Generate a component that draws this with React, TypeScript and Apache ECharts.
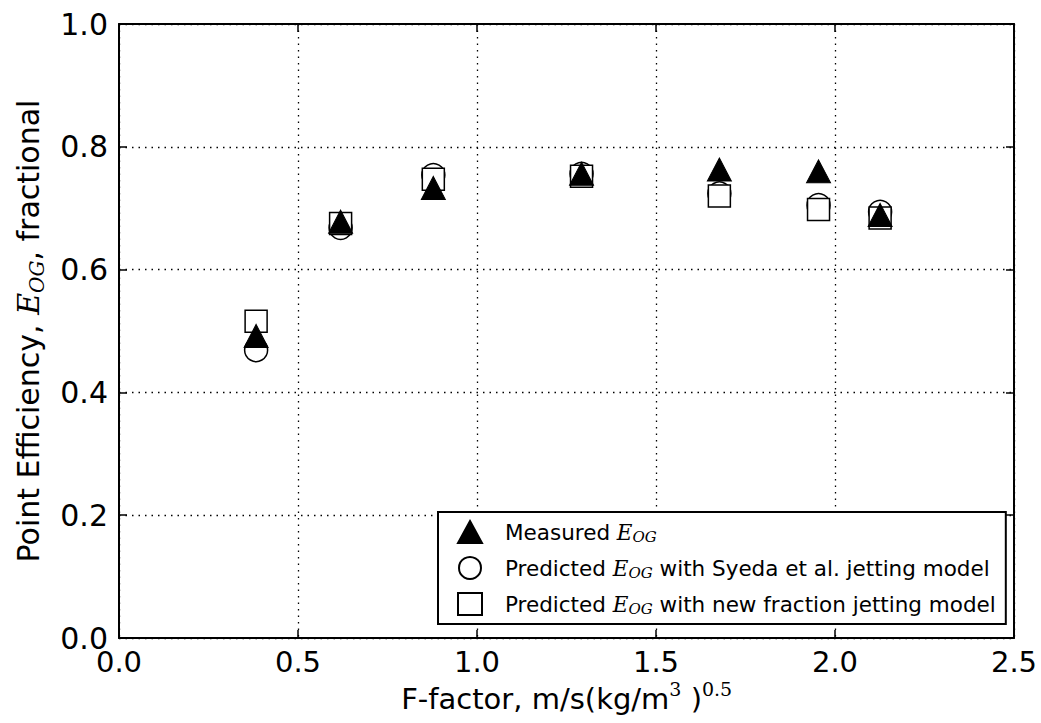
import React, { useEffect, useRef } from "react";
import * as echarts from "echarts";

const fFactor = [0.383, 0.619, 0.878, 1.292, 1.677, 1.954, 2.126];
const measured = [0.492, 0.678, 0.733, 0.756, 0.763, 0.76, 0.689];
const syeda = [0.469, 0.668, 0.754, 0.756, 0.724, 0.705, 0.694];
const newFraction = [0.516, 0.675, 0.747, 0.752, 0.72, 0.698, 0.684];
const seriesNames = [
  "Measured E_OG",
  "Predicted E_OG with Syeda et al. jetting model",
  "Predicted E_OG with new fraction jetting model",
];

const SANS = "DejaVu Sans";
const SERIF = "DejaVu Serif";

function pairs(ys: number[]) {
  return fFactor.map((x, i) => [x, ys[i]]);
}

export default function App() {
  const ref = useRef<HTMLDivElement>(null);
  useEffect(() => {
    if (!ref.current) return;
    const chart = echarts.init(ref.current, undefined, { renderer: "svg" });
    const axisCommon = {
      axisLine: { show: true, onZero: false, lineStyle: { color: "#000", width: 2 } },
      axisTick: { show: true, inside: true, length: 8, lineStyle: { color: "#000", width: 1.5 } },
    };
    const gridLine = { show: true, lineStyle: { color: "#000", width: 1.3, type: [1.5, 5] as any } };
    chart.setOption({
      animation: false,
      backgroundColor: "#fff",
      grid: {
        left: 119,
        right: 27,
        top: 24,
        bottom: 85,
        containLabel: false,
        outerBoundsMode: "none",
      },
      xAxis: [
        {
          type: "value",
          min: 0,
          max: 2.5,
          interval: 0.5,
          position: "bottom",
          ...axisCommon,
          splitLine: gridLine,
          axisLabel: {
            color: "#000",
            fontFamily: SANS,
            fontSize: 29,
            margin: 12,
            lineHeight: 24,
            formatter: (v: number) => v.toFixed(1),
          },
          name: "{st| }{m|F-factor, m/s(kg/m}{s3|3}{m| )}{sup|0.5}",
          nameLocation: "middle",
          nameGap: 41,
          nameMoveOverlap: false,
          nameTextStyle: {
            color: "#000",
            fontFamily: SANS,
            fontSize: 29,
            lineHeight: 30,
            rich: {
              st: {
                fontSize: 1,
                lineHeight: 34,
                verticalAlign: "top",
                color: "#fff",
              },
              m: {
                fontFamily: SANS,
                fontSize: 29,
                lineHeight: 30,
                verticalAlign: "bottom",
                color: "#000",
              },
              s3: {
                fontFamily: SERIF,
                fontSize: 19,
                lineHeight: 30,
                verticalAlign: "top",
                color: "#000",
              },
              sup: {
                fontFamily: SERIF,
                fontSize: 19,
                lineHeight: 19,
                verticalAlign: "top",
                color: "#000",
              },
            },
          },
        },
        {
          type: "value",
          min: 0,
          max: 2.5,
          interval: 0.5,
          position: "top",
          ...axisCommon,
          splitLine: { show: false },
          axisLabel: { show: false },
        },
      ],
      yAxis: [
        {
          type: "value",
          min: 0,
          max: 1,
          interval: 0.2,
          position: "left",
          ...axisCommon,
          splitLine: gridLine,
          axisLabel: {
            color: "#000",
            fontFamily: SANS,
            fontSize: 30,
            margin: 11,
            formatter: (v: number) => v.toFixed(1),
          },
          name: "Point Efficiency, {i|E}{s|OG}, fractional",
          nameLocation: "middle",
          nameRotate: 90,
          nameGap: 72,
          nameMoveOverlap: false,
          nameTextStyle: {
            color: "#000",
            fontFamily: SANS,
            fontSize: 30,
            lineHeight: 38,
            rich: {
              i: {
                fontFamily: SERIF,
                fontStyle: "italic",
                fontSize: 30,
                lineHeight: 38,
                color: "#000",
              },
              s: {
                fontFamily: SERIF,
                fontStyle: "italic",
                fontSize: 20,
                lineHeight: 20,
                verticalAlign: "bottom",
                color: "#000",
              },
            },
          },
        },
        {
          type: "value",
          min: 0,
          max: 1,
          interval: 0.2,
          position: "right",
          ...axisCommon,
          splitLine: { show: false },
          axisLabel: { show: false },
        },
      ],
      legend: {
        data: seriesNames,
        orient: "vertical",
        left: 438,
        top: 512,
        padding: [8, 10, 8, 19],
        itemGap: 12,
        itemWidth: 24,
        itemHeight: 22,
        backgroundColor: "#fff",
        borderColor: "#000",
        borderWidth: 2,
        borderRadius: 0,
        selectedMode: false,
        formatter: (name: string) => name.replace("E_OG", "{i|E}{s|OG}"),
        textStyle: {
          color: "#000",
          fontFamily: SANS,
          fontSize: 21.5,
          lineHeight: 24,
          padding: [0, 0, 0, 18],
          rich: {
            i: {
              fontFamily: SERIF,
              fontStyle: "italic",
              fontSize: 21.5,
              lineHeight: 24,
              color: "#000",
            },
            s: {
              fontFamily: SERIF,
              fontStyle: "italic",
              fontSize: 15,
              lineHeight: 15,
              verticalAlign: "bottom",
              color: "#000",
            },
          },
        },
      },
      series: [
        {
          name: seriesNames[0],
          type: "scatter",
          symbol: "triangle",
          symbolSize: [24, 23],
          z: 5,
          itemStyle: { color: "#000", borderColor: "#000", borderWidth: 1, opacity: 1 },
          data: pairs(measured),
        },
        {
          name: seriesNames[1],
          type: "scatter",
          symbol: "circle",
          symbolSize: 23,
          z: 3,
          itemStyle: { color: "#fff", borderColor: "#000", borderWidth: 1.5, opacity: 1 },
          data: pairs(syeda),
        },
        {
          name: seriesNames[2],
          type: "scatter",
          symbol: "rect",
          symbolSize: 22,
          z: 4,
          itemStyle: { color: "#fff", borderColor: "#000", borderWidth: 1.5, opacity: 1 },
          data: pairs(newFraction),
        },
      ],
    });
    return () => chart.dispose();
  }, []);
  return (
    <div
      ref={ref}
      style={{ position: "fixed", left: 0, top: 0, width: 1041, height: 723, background: "#fff" }}
    />
  );
}
